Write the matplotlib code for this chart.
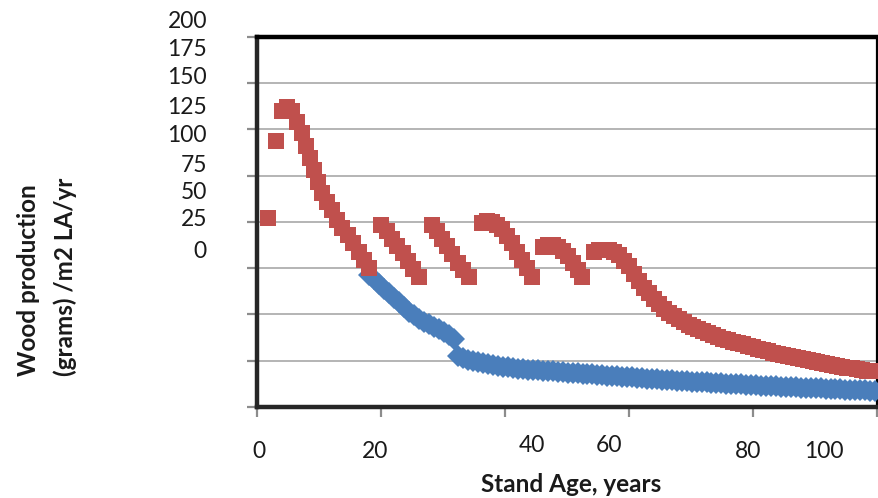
import matplotlib
matplotlib.use("Agg")
import matplotlib.pyplot as plt

plt.rcParams['font.family'] = ['Lato', 'DejaVu Sans']

# ---------------- data ----------------
age_red = [1.8, 3.1, 4.0, 4.8, 5.6, 6.4, 7.2, 7.9, 8.5, 9.2, 9.8, 10.5, 11.3, 12.1,
           12.9, 13.7, 14.6, 15.5, 16.4, 17.3, 18.1,
           20.0, 20.9, 21.7, 22.6, 23.5, 24.4, 25.2, 26.1,
           28.2, 29.0, 29.8, 30.6, 31.5, 32.4, 33.3, 34.2,
           36.3, 37.1, 37.9, 38.7, 39.5, 40.3, 41.1, 41.9, 42.8, 43.6, 44.4,
           46.1, 46.9, 47.7, 48.5, 49.3, 50.1, 50.9, 51.7, 52.4,
           54.4, 55.2, 56.0, 56.8, 57.6, 58.4, 59.2, 60.0, 60.8, 61.6, 62.4, 63.2,
           64.0, 64.8, 65.6, 66.4, 67.2, 68.0, 68.8, 69.6, 70.4, 71.2, 72.0, 72.8,
           73.6, 74.4, 75.2, 76.0, 76.8, 77.6, 78.4, 79.2, 80.0, 80.8, 81.6, 82.4,
           83.2, 84.0, 84.8, 85.6, 86.4, 87.2, 88.0, 88.8, 89.6, 90.4, 91.2, 92.0,
           92.8, 93.6, 94.4, 95.2, 96.0, 96.8, 97.6, 98.4, 99.2]
wood_red = [102, 144, 160, 162, 160, 154, 148, 141, 134.5, 128, 121.5, 115.5, 111, 106.5,
            101, 97, 93, 88.5, 84, 79.5, 75,
            98.5, 95, 91, 87, 83, 79, 74.5, 70.5,
            98.5, 95, 91, 87, 82.5, 78, 74, 70,
            99.5, 100.5, 100, 98.5, 96, 92.5, 88.5, 84, 79.5, 75, 70.5,
            86.5, 87.5, 87.5, 86.5, 84.5, 81.5, 78, 74, 70.5,
            84, 85, 85, 85, 84, 82, 79, 76, 72, 68, 64.5, 61.5,
            58.5, 55.5, 53, 51, 49, 47.5, 46, 44.5, 43, 42, 41, 40,
            39, 38, 37, 36, 35.2, 34.5, 33.8, 33, 32.3, 31.6, 30.8, 30.1,
            29.4, 28.8, 28.2, 27.6, 27, 26.4, 25.8, 25.2, 24.7, 24.2, 23.7, 23.2,
            22.7, 22.2, 21.8, 21.3, 20.9, 20.5, 20.1, 19.7, 19.3]

age_blue = [18.1, 18.9, 19.7, 20.5, 21.3, 22.1, 22.9, 23.7, 24.5, 25.3, 26.1, 26.9,
            27.7, 28.5, 29.3, 30.1, 30.9, 31.7,
            32.5, 33.3, 34.1, 34.9, 35.7, 36.5, 37.3, 38.1, 38.9, 39.7, 40.5, 41.3,
            42.1, 42.9, 43.7, 44.5, 45.3, 46.1, 46.9, 47.7, 48.5, 49.3, 50.1, 50.9,
            51.7, 52.5, 53.3, 54.1, 54.9, 55.7, 56.5, 57.3, 58.1, 58.9, 59.7, 60.5,
            61.3, 62.1, 62.9, 63.7, 64.5, 65.3, 66.1, 66.9, 67.7, 68.5, 69.3, 70.1,
            70.9, 71.7, 72.5, 73.3, 74.1, 74.9, 75.7, 76.5, 77.3, 78.1, 78.9, 79.7,
            80.5, 81.3, 82.1, 82.9, 83.7, 84.5, 85.3, 86.1, 86.9, 87.7, 88.5, 89.3,
            90.1, 90.9, 91.7, 92.5, 93.3, 94.1, 94.9, 95.7, 96.5, 97.3, 98.1, 98.9, 99.7]
wood_blue = [71.5, 69, 66.5, 64, 61.5, 59, 56.5, 54, 51.5, 49.5, 47.8, 46.2,
             44.8, 43.4, 42, 40.8, 39, 37,
             27.5, 26.5, 25.6, 24.9, 24.3, 23.8, 23.3, 22.8, 22.3, 21.8, 21.4, 21.1,
             20.8, 20.5, 20.2, 20.0, 19.8, 19.6, 19.4, 19.2, 19.0, 18.8, 18.6, 18.4,
             18.2, 18.0, 17.8, 17.6, 17.4, 17.2, 17.0, 16.8, 16.6, 16.4, 16.2, 16.0,
             15.8, 15.6, 15.4, 15.2, 15.0, 14.8, 14.6, 14.4, 14.2, 14.0, 13.9, 13.7,
             13.6, 13.4, 13.3, 13.1, 13.0, 12.8, 12.7, 12.5, 12.4, 12.2, 12.1, 11.9,
             11.8, 11.6, 11.5, 11.3, 11.2, 11.0, 10.9, 10.8, 10.6, 10.5, 10.4, 10.3,
             10.1, 10.0, 9.9, 9.8, 9.7, 9.5, 9.4, 9.3, 9.2, 9.1, 9.0, 8.9, 8.8]

y_tick_labels = ['200', '175', '150', '125', '100', '75', '50', '25', '0']
x_tick_labels = ['0', '20', '40', '60', '80', '100']
y_label_lines = ['Wood production', '(grams) /m2 LA/yr']
x_label = 'Stand Age, years'

# ---------------- figure ----------------
W, H = 879, 498
fig = plt.figure(figsize=(W / 100, H / 100), dpi=100)
ax = fig.add_axes([257 / W, 1 - 407 / H, (877 - 257) / W, (407 - 37) / H])

ax.plot(age_blue, wood_blue, linestyle='none', marker='D', markersize=11,
        color='#4a7ebb', markeredgewidth=0, zorder=3)
ax.plot(age_red, wood_red, linestyle='none', marker='s', markersize=12,
        color='#c0504d', markeredgewidth=0, zorder=4)

ax.set_xlim(0, 100)
ax.set_ylim(0, 200)
ax.set_yticks(range(0, 201, 25))
ax.set_xticks(range(0, 101, 20))
ax.yaxis.grid(True, color='#a0a0a0', linewidth=1.1)
ax.set_axisbelow(True)
ax.tick_params(axis='both', direction='out', length=7, width=1.6,
               color='#8c8c8c', labelleft=False, labelbottom=False)

ax.spines['top'].set_linewidth(3.2)
ax.spines['top'].set_color('black')
ax.spines['right'].set_linewidth(1.6)
ax.spines['right'].set_color('black')
for s in ('left', 'bottom'):
    ax.spines[s].set_linewidth(3.2)
    ax.spines[s].set_color('#262626')

# misplaced tick-label texts as they appear in the picture
y_label_pos = [22, 50, 78, 107, 135, 165, 192, 220, 252]
for lab, yp in zip(y_tick_labels, y_label_pos):
    fig.text(207 / W, 1 - yp / H, lab, ha='right', va='center',
             fontsize=16.5, color='#1a1a1a')

x_label_pos = [(259, 451), (375, 451), (532, 445), (609, 445), (748, 451), (824, 451)]
for lab, (xp, yp) in zip(x_tick_labels, x_label_pos):
    fig.text(xp / W, 1 - yp / H, lab, ha='center', va='center',
             fontsize=16.5, color='#1a1a1a')

fig.text(571 / W, 1 - 484 / H, x_label, ha='center', va='center',
         fontsize=17.5, fontweight='bold', color='#1a1a1a')
fig.text(29 / W, 1 - 280 / H, y_label_lines[0], ha='center', va='center',
         rotation=90, fontsize=17.5, fontweight='bold', color='#1a1a1a')
fig.text(65 / W, 1 - 277 / H, y_label_lines[1], ha='center', va='center',
         rotation=90, fontsize=17.5, fontweight='bold', color='#1a1a1a')

fig.savefig('out.png', dpi=100)
